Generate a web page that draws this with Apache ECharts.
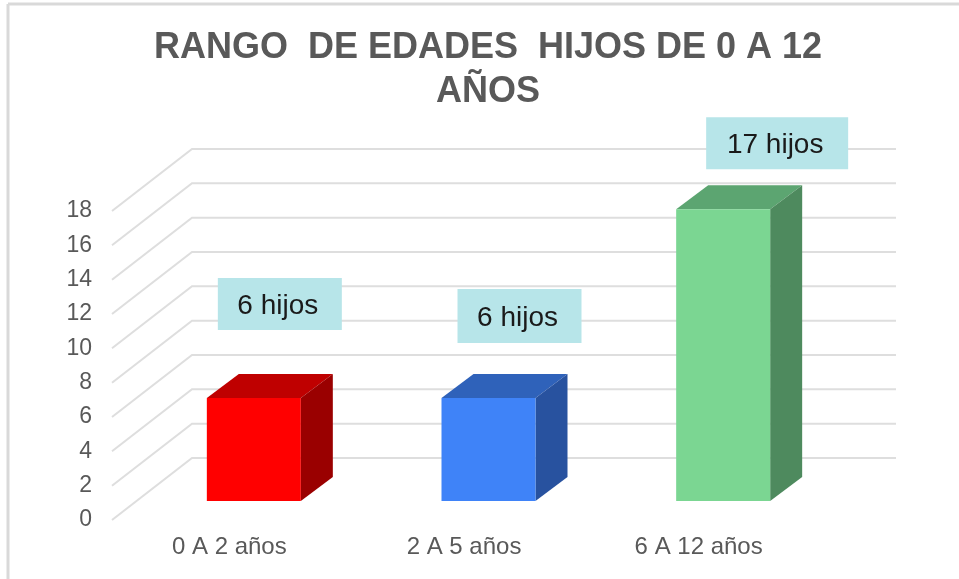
<!DOCTYPE html>
<html>
<head>
<meta charset="utf-8">
<style>
  html, body { margin: 0; padding: 0; background: #fff; }
  #chart { width: 959px; height: 579px; }
</style>
<script src="https://cdn.jsdelivr.net/npm/echarts@6/dist/echarts.min.js"></script>
</head>
<body>
<div id="chart"></div>
<script>
var categories = ['0 A 2 años', '2 A 5 años', '6 A 12 años'];
var hijos = [6, 6, 17];
var yTicks = [0, 2, 4, 6, 8, 10, 12, 14, 16, 18];

// front, top and side faces of each column
var faceColors = [
  ['#FF0000', '#BF0000', '#9A0000'],
  ['#3F83F8', '#2F62BA', '#28529F'],
  ['#7BD692', '#5CA571', '#4E8A5E']
];
// manual placement of the text boxes, relative to the top of each column
var boxShift = [[26, -94], [31, -82], [54, -66]];
var boxSize = [[124, 52], [124, 54], [142, 52]];

var depthX = 80, depthY = -62;      // floor depth of the fake 3D
var barWidth = 94;
var barFront = [24.5, -19], barDepth = [32, -24];

var chart = echarts.init(document.getElementById('chart'));

function renderWall(params, api) {
  var y = api.coord([0, api.value(1)])[1];
  var left = params.coordSys.x;
  var right = left + params.coordSys.width;
  return {
    type: 'polyline',
    shape: { points: [[left, y], [left + depthX, y + depthY], [right + depthX, y + depthY]] },
    style: { fill: null, stroke: '#DEDEDE', lineWidth: 2 }
  };
}

function renderColumn(params, api) {
  var i = params.dataIndex;
  var top = api.coord([i, api.value(1)]);
  var base = api.coord([i, 0]);
  var x0 = top[0] + barFront[0] - barWidth / 2;
  var x1 = x0 + barWidth;
  var y0 = top[1] + barFront[1];
  var y1 = base[1] + barFront[1];
  var dx = barDepth[0], dy = barDepth[1];
  var c = faceColors[i];
  return {
    type: 'group',
    children: [
      { type: 'polygon', shape: { points: [[x0, y0], [x1, y0], [x1 + dx, y0 + dy], [x0 + dx, y0 + dy]] }, style: { fill: c[1] } },
      { type: 'polygon', shape: { points: [[x1, y0], [x1 + dx, y0 + dy], [x1 + dx, y1 + dy], [x1, y1]] }, style: { fill: c[2] } },
      { type: 'rect', shape: { x: x0, y: y0, width: barWidth, height: y1 - y0 }, style: { fill: c[0] } }
    ]
  };
}

function renderBox(params, api) {
  var i = params.dataIndex;
  var top = api.coord([i, api.value(1)]);
  var cx = top[0] + barFront[0] + boxShift[i][0];
  var cy = top[1] + barFront[1] + boxShift[i][1];
  var w = boxSize[i][0], h = boxSize[i][1];
  return {
    type: 'group',
    children: [
      { type: 'rect', shape: { x: cx - w / 2, y: cy - h / 2, width: w, height: h }, style: { fill: '#B7E5E9' } },
      {
        type: 'text',
        style: {
          x: cx - 2, y: cy + 2,
          text: api.value(1) + ' hijos',
          align: 'center', verticalAlign: 'middle',
          fill: '#1A1A1A',
          font: '28px "Liberation Sans", Arial, sans-serif'
        }
      }
    ]
  };
}

var option = {
  backgroundColor: '#fff',
  animation: false,
  title: {
    text: 'RANGO  DE EDADES  HIJOS DE 0 A 12\nAÑOS',
    left: 483,
    top: 21,
    textAlign: 'center',
    textStyle: {
      color: '#595959',
      fontFamily: '"Liberation Sans", Arial, sans-serif',
      fontWeight: 'bold',
      fontSize: 36,
      lineHeight: 44
    }
  },
  grid: { left: 112, top: 211, width: 704, height: 309 },
  xAxis: {
    type: 'category',
    data: categories,
    axisLine: { show: false },
    axisTick: { show: false },
    axisLabel: {
      color: '#595959',
      fontFamily: '"Liberation Sans", Arial, sans-serif',
      fontSize: 24,
      margin: 15
    }
  },
  yAxis: {
    type: 'value',
    min: 0,
    max: 18,
    interval: 2,
    axisLine: { show: false },
    axisTick: { show: false },
    splitLine: { show: false },
    axisLabel: {
      color: '#595959',
      fontFamily: '"Liberation Sans", Arial, sans-serif',
      fontSize: 23,
      margin: 20
    }
  },
  graphic: [
    { type: 'line', shape: { x1: 8, y1: 4, x2: 8, y2: 579 }, style: { stroke: '#D9D9D9', lineWidth: 3 } },
    { type: 'line', shape: { x1: 8, y1: 4, x2: 959, y2: 4 }, style: { stroke: '#D9D9D9', lineWidth: 3 } }
  ],
  series: [
    {
      type: 'custom',
      renderItem: renderWall,
      z: 1,
      data: yTicks.map(function (t) { return [0, t]; }),
      encode: { x: 0, y: 1 }
    },
    {
      name: 'hijos',
      type: 'custom',
      renderItem: renderColumn,
      z: 2,
      data: hijos.map(function (v, i) { return [i, v]; }),
      encode: { x: 0, y: 1 }
    },
    {
      type: 'custom',
      renderItem: renderBox,
      z: 3,
      data: hijos.map(function (v, i) { return [i, v]; }),
      encode: { x: 0, y: 1 }
    }
  ]
};

chart.setOption(option);
</script>
</body>
</html>
